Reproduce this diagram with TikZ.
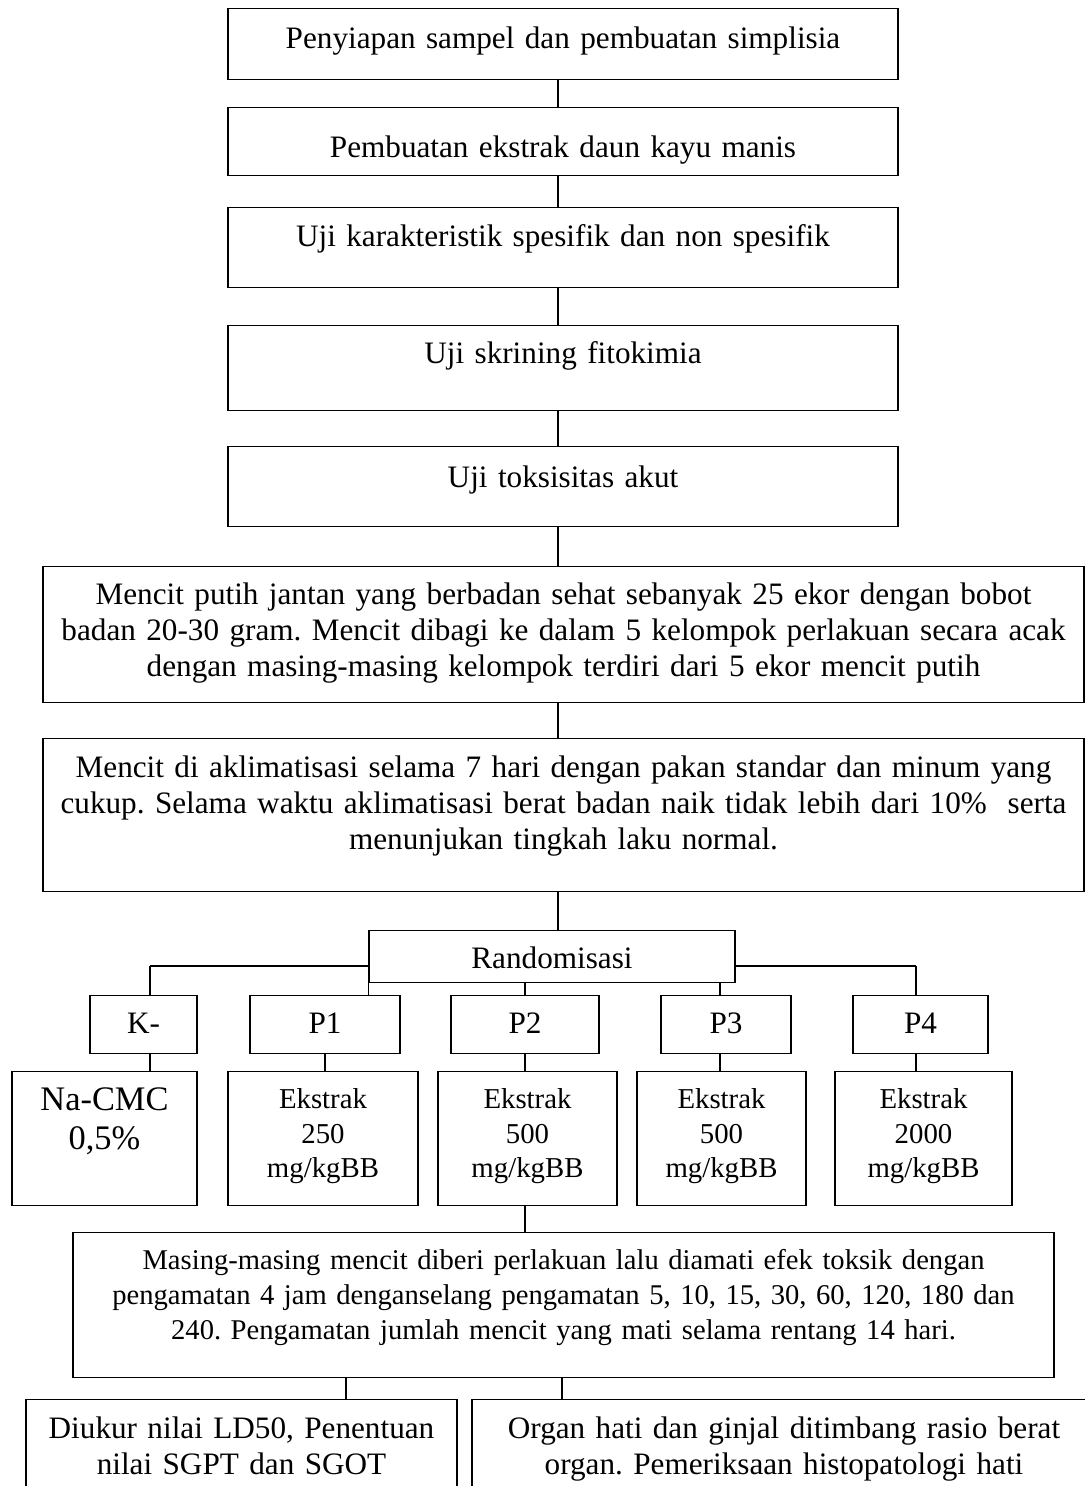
\documentclass[tikz,border=0pt]{standalone}
\usepackage{fontspec}
\setmainfont{Liberation Serif}
\frenchspacing
\hyphenpenalty=10000

\begin{document}
\begin{tikzpicture}[
  x=0.5pt, y=-0.5pt,
  font=\fontsize{15.6pt}{18pt}\selectfont,
  box/.style={rectangle, draw, line width=0.6pt, anchor=north, inner sep=0pt, align=center},
  small/.style={font=\fontsize{14.3pt}{17.5pt}\selectfont},
  dose/.style={font=\fontsize{14.4pt}{17.25pt}\selectfont},
  large/.style={font=\fontsize{17.2pt}{19.25pt}\selectfont},
  link/.style={line width=0.6pt},
]
\clip (0,0) rectangle (1085,1486);

\coordinate (spine) at (558,0);
\coordinate (barL) at (150,966);
\coordinate (barR) at (916,966);
\coordinate (t1) at (346,0);
\coordinate (t2) at (562,0);

% === preparation steps ===
\node[box, text width=335pt, text height=20pt, text depth=15.5pt] (b1) at (563,8) {Penyiapan sampel dan pembuatan simplisia};
\node[box, text width=335pt, text height=25pt, text depth=9pt] (b2) at (563,107) {Pembuatan ekstrak daun kayu manis};
\node[box, text width=335pt, text height=19.5pt, text depth=20.5pt] (b3) at (563,207) {Uji karakteristik spesifik dan non spesifik};
\node[box, text width=335pt, text height=19pt, text depth=23.5pt] (b4) at (563,325) {Uji skrining fitokimia};
\node[box, text width=335pt, text height=20.5pt, text depth=19.5pt] (b5) at (563,446) {Uji toksisitas akut};
\node[box, text width=520.5pt, text height=19pt, text depth=49pt] (b6) at (563.5,566)
  {Mencit putih jantan yang berbadan sehat sebanyak 25 ekor dengan bobot\\badan 20-30 gram. Mencit dibagi ke dalam 5 kelompok perlakuan secara acak\\dengan masing-masing kelompok terdiri dari 5 ekor mencit putih};
\node[box, text width=520.5pt, text height=19.5pt, text depth=57pt] (b7) at (563.5,738)
  {Mencit di aklimatisasi selama 7 hari dengan pakan standar dan minum yang\\cukup. Selama waktu aklimatisasi berat badan naik tidak lebih dari 10\% \ serta\\menunjukan tingkah laku normal.};
\draw[link] (b1.south -| spine) -- (b2.north -| spine);
\draw[link] (b2.south -| spine) -- (b3.north -| spine);
\draw[link] (b3.south -| spine) -- (b4.north -| spine);
\draw[link] (b4.south -| spine) -- (b5.north -| spine);
\draw[link] (b5.south -| spine) -- (b6.north -| spine);
\draw[link] (b6.south -| spine) -- (b7.north -| spine);

% === randomisation ===
\node[box, text width=183pt, text height=19pt, text depth=7pt] (rand) at (552,930) {Randomisasi};
\draw[link] (b7.south -| spine) -- (rand.north -| spine);
\draw[link] (barL) -- (rand.west |- barL);
\draw[link] (rand.east |- barR) -- (barR);

% === groups ===
\node[box, text width=53.5pt, text height=19pt, text depth=10pt] (kneg) at (143.5,995) {K-};
\node[box, text width=75pt, text height=19pt, text depth=10pt] (p1) at (325,995) {P1};
\node[box, text width=74pt, text height=19pt, text depth=10pt] (p2) at (525,995) {P2};
\node[box, text width=65pt, text height=19pt, text depth=10pt] (p3) at (726,995) {P3};
\node[box, text width=67.5pt, text height=19pt, text depth=10pt] (p4) at (920.5,995) {P4};
\draw[link] (barL) -- (barL |- kneg.north);
\draw[link] (rand.south west) -- (rand.south west |- p1.north);
\draw[link] (p2.north |- rand.south) -- (p2.north);
\draw[link] ([xshift=-3pt]p3.north |- rand.south) -- ([xshift=-3pt]p3.north);
\draw[link] (barR) -- (barR |- p4.north);

% === doses ===
\node[box, large, text width=92.5pt, text height=19.5pt, text depth=47.5pt] (dk) at (104.5,1071) {Na-CMC\\0,5\%};
\node[box, dose, text width=95pt, text height=18.5pt, text depth=48.5pt] (d1) at (323,1071) {Ekstrak\\250\\mg/kgBB};
\node[box, dose, text width=89.5pt, text height=18.5pt, text depth=48.5pt] (d2) at (527.5,1071) {Ekstrak\\500\\mg/kgBB};
\node[box, dose, text width=84.5pt, text height=18.5pt, text depth=48.5pt] (d3) at (721.5,1071) {Ekstrak\\500\\mg/kgBB};
\node[box, dose, text width=88.5pt, text height=18.5pt, text depth=48.5pt] (d4) at (923.5,1071) {Ekstrak\\2000\\mg/kgBB};
\draw[link] (barL |- kneg.south) -- (barL |- dk.north);
\draw[link] (p1.south) -- (p1.south |- d1.north);
\draw[link] (p2.south) -- (p2.south |- d2.north);
\draw[link] ([xshift=-3pt]p3.south) -- ([xshift=-3pt]p3.south |- d3.north);
\draw[link] (barR |- p4.south) -- (barR |- d4.north);

% === observation and results ===
\node[box, small, text width=490.5pt, text height=18.5pt, text depth=54pt] (obs) at (563.5,1232)
  {Masing-masing mencit diberi perlakuan lalu diamati efek toksik dengan\\pengamatan 4 jam denganselang pengamatan 5, 10, 15, 30, 60, 120, 180 dan\\240. Pengamatan jumlah mencit yang mati selama rentang 14 hari.};
\draw[link] (p2.south |- d2.south) -- (p2.south |- obs.north);
\node[box, text width=215.5pt, text height=19.5pt, text depth=46pt] (res1) at (241.5,1399) {Diukur nilai LD50, Penentuan\\nilai SGPT dan SGOT};
\node[box, text width=312pt, text height=19.5pt, text depth=46pt] (res2) at (784,1399) {Organ hati dan ginjal ditimbang rasio berat\\organ. Pemeriksaan histopatologi hati};
\draw[link] (obs.south -| t1) -- (res1.north -| t1);
\draw[link] (obs.south -| t2) -- (res2.north -| t2);

\end{tikzpicture}
\end{document}
